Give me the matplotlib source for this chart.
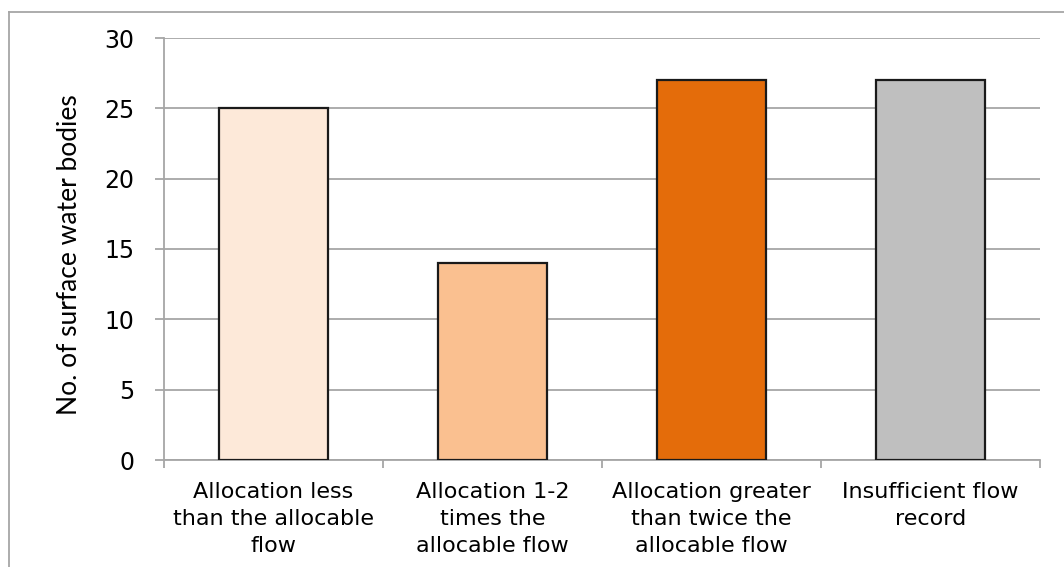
import matplotlib
matplotlib.use("Agg")
import matplotlib.pyplot as plt
from matplotlib.lines import Line2D

categories = [
    "Allocation less\nthan the allocable\nflow",
    "Allocation 1-2\ntimes the\nallocable flow",
    "Allocation greater\nthan twice the\nallocable flow",
    "Insufficient flow\nrecord",
]
counts = [25, 14, 27, 27]
bar_colors = ["#FDE9D9", "#FAC090", "#E46C0A", "#BFBFBF"]
y_ticks = [0, 5, 10, 15, 20, 25, 30]

GRID = "#A6A6A6"


def main():
    fig = plt.figure(figsize=(10.64, 5.67), dpi=100)
    ax = fig.add_axes([164 / 1064, 1 - 460 / 567, 876 / 1064, 422 / 567])

    x = range(len(categories))
    ax.bar(x, counts, width=0.5, color=bar_colors, edgecolor="#1a1a1a",
           linewidth=1.6, zorder=3)

    # axes and grid
    ax.set_xlim(-0.5, len(categories) - 0.5)
    ax.set_ylim(0, 30)
    ax.set_yticks(y_ticks)
    ax.grid(axis="y", color=GRID, linewidth=1.3, zorder=0)
    for s in ["top", "right"]:
        ax.spines[s].set_visible(False)
    for s in ["left", "bottom"]:
        ax.spines[s].set_color(GRID)
        ax.spines[s].set_linewidth(1.3)

    ax.tick_params(axis="y", length=6.5, width=1.3, color=GRID, pad=15,
                   labelsize=17, labelcolor="black")
    ax.set_xticks(list(x))
    ax.set_xticklabels(categories, fontsize=16, linespacing=1.42)
    ax.set_xticks([i - 0.5 for i in range(len(categories) + 1)], minor=True)
    ax.tick_params(axis="x", which="major", length=0, pad=16)
    ax.tick_params(axis="x", which="minor", length=6, width=1.3, color=GRID)

    fig.text(70 / 1064, 1 - 255 / 567, "No. of surface water bodies",
             rotation=90, ha="center", va="center", fontsize=19,
             family=["Lato", "DejaVu Sans"])

    # outer chart frame (left and top edges visible)
    fig.add_artist(Line2D([9 / 1064, 9 / 1064], [0, 1 - 12 / 567],
                          transform=fig.transFigure, color=GRID, linewidth=1.3))
    fig.add_artist(Line2D([9 / 1064, 1], [1 - 12 / 567, 1 - 12 / 567],
                          transform=fig.transFigure, color=GRID, linewidth=1.3))

    fig.savefig("out.png", dpi=100)


if __name__ == "__main__":
    main()
